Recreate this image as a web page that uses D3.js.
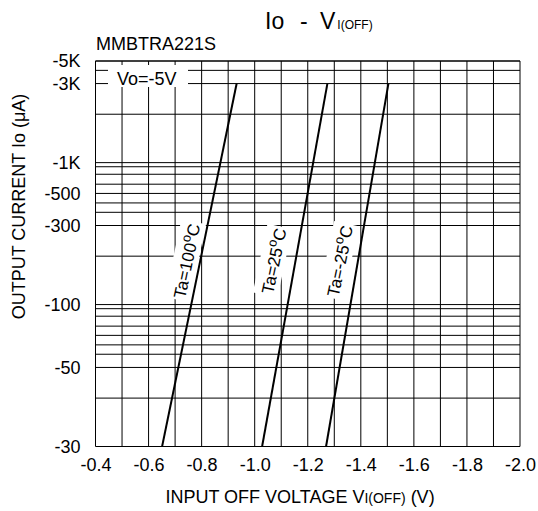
<!DOCTYPE html>
<html>
<head>
<meta charset="utf-8">
<script src="https://cdn.jsdelivr.net/npm/d3@7"></script>
<style>
  body { margin: 0; background: #fff; }
  text { font-family: "Liberation Sans", Arial, sans-serif; fill: #000; }
</style>
</head>
<body>
<svg id="chart" width="538" height="511"></svg>
<script>
// x axis
var xTicks = [-0.4, -0.6, -0.8, -1.0, -1.2, -1.4, -1.6, -1.8, -2.0];
var xTickLabels = ['-0.4', '-0.6', '-0.8', '-1.0', '-1.2', '-1.4', '-1.6', '-1.8', '-2.0'];

// y axis labels, and the line of the printed log paper each one sits on
var yTickValues = [-30, -50, -100, -300, -500, -1000, -3000, -5000];
var yTickLabels = ['-30', '-50', '-100', '-300', '-500', '-1K', '-3K', '-5K'];
var yTickGrid = [10, 30, 100, 300, 600, 1000, 3000, 5000];

// the log paper is not a true log grid: mantissa -> fraction of a decade
var mantissa = [1, 2, 3, 4, 5, 6, 7, 8, 9, 10];
var mantissaFrac = [0, 0.341, 0.557, 0.650, 0.716, 0.783, 0.848, 0.918, 0.971, 1];

// series (Io in uA at both ends, V in volts)
var temps = ['Ta=100', 'Ta=25', 'Ta=-25'];
var ioEnds = [-30, -3000];
var vTa100 = [-0.651, -0.932];
var vTa25 = [-1.028, -1.274];
var vTaM25 = [-1.269, -1.504];
var labelV = [-0.745, -1.073, -1.322];
var labelIoGrid = 190;

var LEFT = 95.5, RIGHT = 520, TOP = 61, BOTTOM = 446.5;

var svg = d3.select('#chart');

var x = d3.scaleLinear().domain([-0.4, -2.0]).range([LEFT, RIGHT]);

var mant = d3.scaleLinear().domain(mantissa).range(mantissaFrac);
function gridPos(v) {
  var e = Math.floor(Math.log10(v) + 1e-9);
  return e - 1 + mant(v / Math.pow(10, e));
}
var yDec = d3.scaleLinear().domain([0, gridPos(5000)]).range([BOTTOM, TOP]);
function yGrid(v) { return yDec(gridPos(v)); }
// data scale, through the labelled lines
var y = d3.scaleLinear().domain(yTickValues).range(yTickGrid.map(yGrid));

// grid
var xGridVals = d3.range(0, 17).map(function(i) { return -0.4 - i * 0.1; });
var yGridVals = [];
[10, 100, 1000].forEach(function(d) {
  d3.range(1, 10).forEach(function(m) { if (m * d <= 5000) yGridVals.push(m * d); });
});
yGridVals.push(5000);

var grid = svg.append('g').attr('stroke', '#000').attr('stroke-width', 1);
grid.selectAll('line.v').data(xGridVals).enter().append('line')
  .attr('class', 'v')
  .attr('x1', function(d) { return x(d); })
  .attr('x2', function(d) { return x(d); })
  .attr('y1', TOP).attr('y2', BOTTOM);
grid.selectAll('line.h').data(yGridVals).enter().append('line')
  .attr('class', 'h')
  .attr('x1', LEFT).attr('x2', RIGHT)
  .attr('y1', function(d) { return yGrid(d); })
  .attr('y2', function(d) { return yGrid(d); });

// axes
var xAxis = svg.append('g')
  .attr('transform', 'translate(0,' + BOTTOM + ')')
  .call(d3.axisBottom(x).tickValues(xTicks).tickSize(0).tickPadding(11.7)
    .tickFormat(function(d, i) { return xTickLabels[i]; }));
var yAxis = svg.append('g')
  .attr('transform', 'translate(' + LEFT + ',0)')
  .call(d3.axisLeft(y).tickValues(yTickValues).tickSize(0).tickPadding(15)
    .tickFormat(function(d, i) { return yTickLabels[i]; }));
[xAxis, yAxis].forEach(function(a) {
  a.select('.domain').remove();
  a.selectAll('text').attr('font-size', 18).attr('font-family', '"Liberation Sans", Arial, sans-serif');
});

// titles
var title = svg.append('text').attr('y', 29).attr('font-size', 23);
title.append('tspan').attr('x', 265).text('Io');
title.append('tspan').attr('x', 300).text('-');
title.append('tspan').attr('x', 320).text('V');
title.append('tspan').attr('font-size', 12).attr('dx', 2).text('I(OFF)');

svg.append('text').attr('x', 96).attr('y', 50).attr('font-size', 18).text('MMBTRA221S');

var xt = svg.append('text').attr('x', 300).attr('y', 502.5)
  .attr('font-size', 18).attr('text-anchor', 'middle');
xt.append('tspan').text('INPUT OFF VOLTAGE V');
xt.append('tspan').attr('font-size', 14).text('I(OFF)');
xt.append('tspan').text(' (V)');

svg.append('text')
  .attr('transform', 'translate(25,206.5) rotate(-90)')
  .attr('font-size', 18).attr('text-anchor', 'middle')
  .text('OUTPUT CURRENT Io (\u03bcA)');

// condition box
svg.append('rect').attr('x', 108).attr('y', 65).attr('width', 80).attr('height', 22).attr('fill', '#fff');
svg.append('text').attr('x', 117).attr('y', 85).attr('font-size', 18).text('Vo=-5V');

// curve labels
temps.forEach(function(t, i) {
  var g = svg.append('g')
    .attr('transform', 'translate(' + x(labelV[i]) + ',' + yGrid(labelIoGrid) + ') rotate(-78)');
  var txt = g.append('text').attr('font-size', 17).attr('text-anchor', 'middle').attr('dy', '0.35em');
  txt.append('tspan').text(t);
  txt.append('tspan').attr('font-size', 13).attr('dy', '-0.55em').text('o');
  txt.append('tspan').attr('dy', '0.4em').text('C');
  var b = txt.node().getBBox();
  g.insert('rect', 'text')
    .attr('x', b.x - 2).attr('y', b.y - 1)
    .attr('width', b.width + 4).attr('height', b.height + 2)
    .attr('fill', '#fff');
});

// curves
var seriesV = [vTa100, vTa25, vTaM25];
var line = d3.line()
  .x(function(d) { return x(d[0]); })
  .y(function(d) { return y(d[1]); });
svg.selectAll('path.curve').data(seriesV).enter().append('path')
  .attr('class', 'curve')
  .attr('d', function(v) { return line(v.map(function(vv, j) { return [vv, ioEnds[j]]; })); })
  .attr('fill', 'none').attr('stroke', '#000').attr('stroke-width', 2);
</script>
</body>
</html>
